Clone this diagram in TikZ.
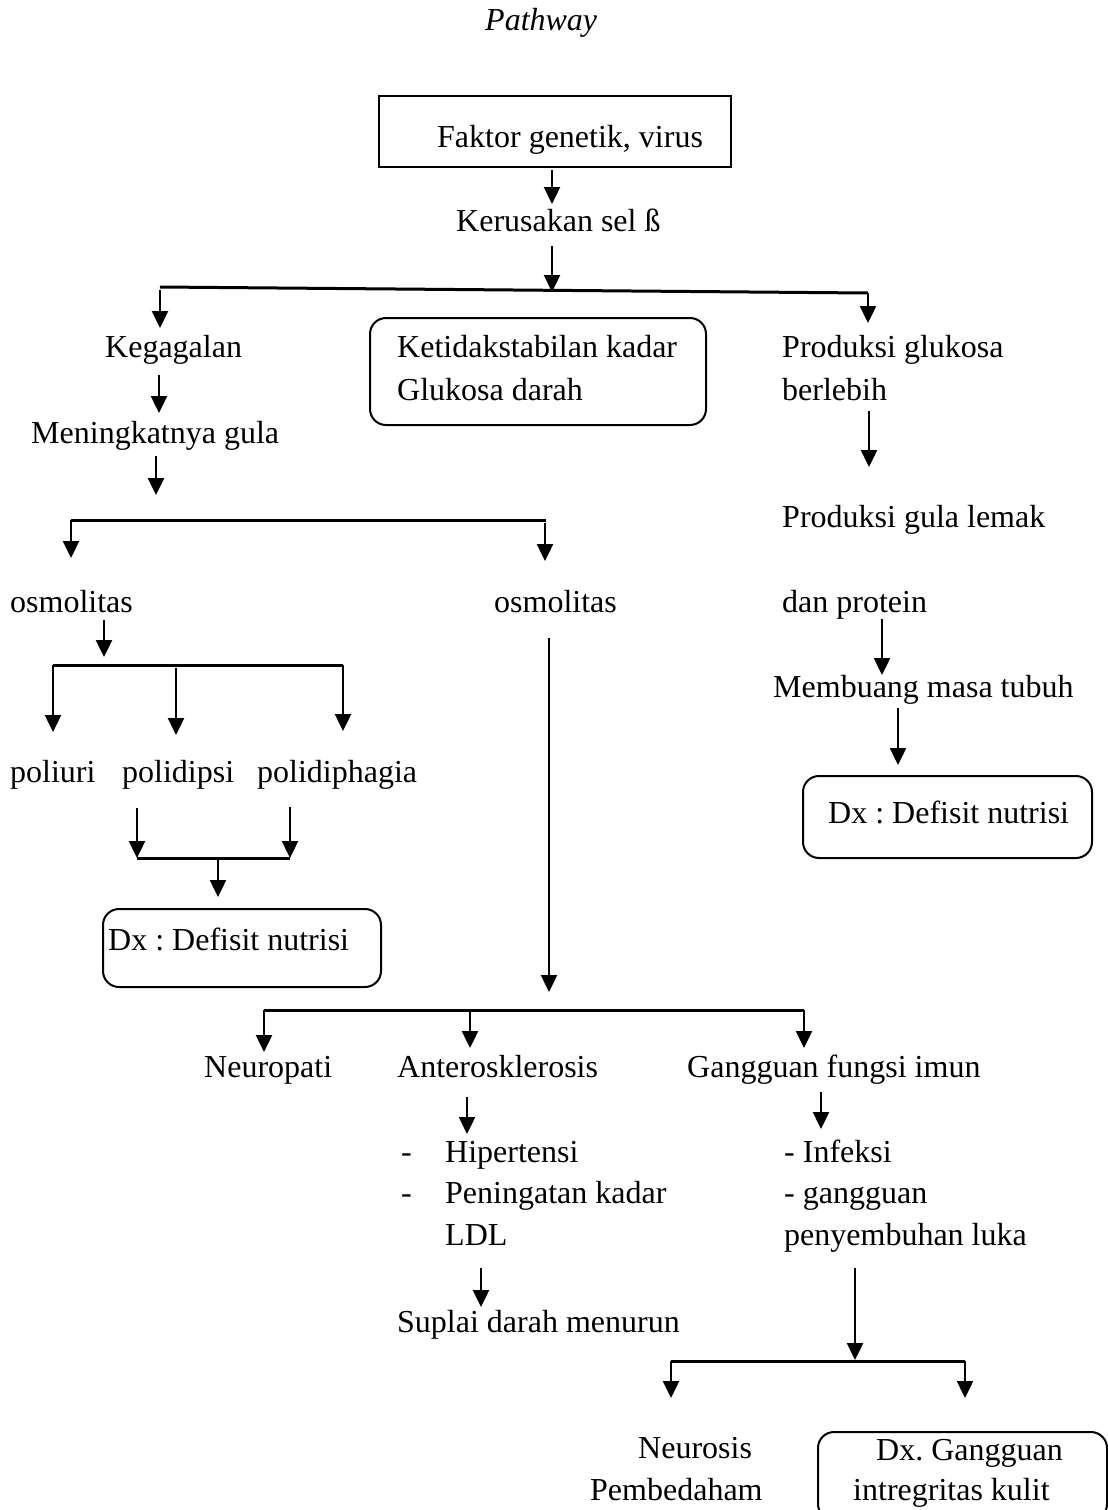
\documentclass[tikz,border=0pt]{standalone}
\usepackage{fontspec}
\setmainfont{Liberation Serif}
\usetikzlibrary{arrows.meta}
\frenchspacing
\newcommand{\fsz}{\fontsize{32}{38}\selectfont}
\tikzset{
  txt/.style={inner sep=0pt, anchor=base west, font=\fsz},
  arr/.style={line width=2.4pt, -{Triangle[length={17pt 0 0},width={16pt 0 0}]}},
  bar/.style={line width=3pt},
  sqbox/.style={line width=2pt},
  rbox/.style={line width=2pt, rounded corners=16pt},
}
\begin{document}
\frenchspacing
\begin{tikzpicture}[x=1pt,y=-1pt]
\useasboundingbox[fill=white] (0,0) rectangle (1108,1510);
\clip (0,0) rectangle (1108,1510);

% title
\node[txt, font=\fsz\itshape] (title) at (485,30) {Pathway};

% boxes
\draw[sqbox] (379,96) rectangle (731,167);
\node[txt] (fak) at (437,147) {Faktor genetik, virus};
\draw[rbox] (370,318) rectangle (706,425);
\draw[rbox] (803,776) rectangle (1092,858);
\draw[rbox] (103,909) rectangle (381,987);
\draw[rbox] (818,1432) rectangle (1107,1520);

% texts
\node[txt] (ker) at (456,231) {Kerusakan sel ß};
\node[txt] (keg) at (105,357) {Kegagalan};
\node[txt] (ket1) at (397,357) {Ketidakstabilan kadar};
\node[txt] (ket2) at (397,400) {Glukosa darah};
\node[txt] (prod1) at (782,357) {Produksi glukosa};
\node[txt] (prod2) at (782,400) {berlebih};
\node[txt] (men) at (31,443) {Meningkatnya gula};
\node[txt] (pgl) at (782,527) {Produksi gula lemak};
\node[txt] (osm1) at (10,612) {osmolitas};
\node[txt] (osm2) at (494,612) {osmolitas};
\node[txt] (dan) at (782,612) {dan protein};
\node[txt] (mem) at (773,697) {Membuang masa tubuh};
\node[txt] (pu) at (10,782) {poliuri};
\node[txt] (pd) at (122,782) {polidipsi};
\node[txt] (ph) at (257,782) {polidiphagia};
\node[txt] (dxr) at (828,823) {Dx : Defisit nutrisi};
\node[txt] (dxl) at (108,950) {Dx : Defisit nutrisi};
\node[txt] (neu) at (204,1077) {Neuropati};
\node[txt] (ant) at (397,1077) {Anterosklerosis};
\node[txt] (gfi) at (687,1077) {Gangguan fungsi imun};
\node[txt] (d1) at (401,1162) {-};
\node[txt] (hip) at (445,1162) {Hipertensi};
\node[txt] (d2) at (401,1203) {-};
\node[txt] (pen) at (445,1203) {Peningatan kadar};
\node[txt] (ldl) at (445,1245) {LDL};
\node[txt] (inf) at (784,1162) {- Infeksi};
\node[txt] (gg) at (784,1203) {- gangguan};
\node[txt] (pny) at (784,1245) {penyembuhan luka};
\node[txt] (sup) at (397,1332) {Suplai darah menurun};
\node[txt] (nrs) at (638,1458) {Neurosis};
\node[txt] (pbd) at (590,1500) {Pembedaham};
\node[txt] (dxg1) at (876,1460) {Dx. Gangguan};
\node[txt] (dxg2) at (853,1500) {intregritas kulit};

% connector coordinates
\coordinate (a1s) at (552,170);  \coordinate (a1e) at (552,204);
\coordinate (a2s) at (552,246);  \coordinate (a2e) at (552,292);
\coordinate (h1l) at (160,287);  \coordinate (h1r) at (868,293);
\coordinate (a3s) at (160,290);  \coordinate (a3e) at (160,328);
\coordinate (a4s) at (868,293);  \coordinate (a4e) at (868,323);
\coordinate (a5s) at (159,375);  \coordinate (a5e) at (159,413);
\coordinate (a6s) at (156,456);  \coordinate (a6e) at (156,495);
\coordinate (h2l) at (71,520);   \coordinate (h2r) at (546,520);
\coordinate (a7e) at (71,558);
\coordinate (a8s) at (545,523);  \coordinate (a8e) at (545,561);
\coordinate (a9s) at (869,411);  \coordinate (a9e) at (869,467);
\coordinate (a10s) at (104,620); \coordinate (a10e) at (104,657);
\coordinate (h3l) at (53,665);   \coordinate (h3r) at (343,665);
\coordinate (a11e) at (53,732);
\coordinate (a12s) at (176,668); \coordinate (a12e) at (176,735);
\coordinate (a13e) at (343,731);
\coordinate (a14s) at (882,619); \coordinate (a14e) at (882,675);
\coordinate (a15s) at (898,708); \coordinate (a15e) at (898,765);
\coordinate (a16s) at (137,808); \coordinate (h4l) at (137,858);
\coordinate (a17s) at (290,807); \coordinate (h4r) at (290,858);
\coordinate (a18s) at (218,858); \coordinate (a18e) at (218,897);
\coordinate (a19s) at (549,638); \coordinate (a19e) at (549,992);
\coordinate (h5l) at (264,1010); \coordinate (h5r) at (804,1010);
\coordinate (a20e) at (264,1052);
\coordinate (a21s) at (470,1010); \coordinate (a21e) at (470,1048);
\coordinate (a22e) at (804,1048);
\coordinate (a23s) at (467,1097); \coordinate (a23e) at (467,1134);
\coordinate (a24s) at (821,1092); \coordinate (a24e) at (821,1129);
\coordinate (a25s) at (481,1268); \coordinate (a25e) at (481,1307);
\coordinate (a26s) at (855,1268); \coordinate (a26e) at (855,1360);
\coordinate (h6l) at (671,1361); \coordinate (h6r) at (965,1361);
\coordinate (a27e) at (671,1398); \coordinate (a28e) at (965,1398);

% bars
\draw[bar] (h1l) -- (h1r);
\draw[bar] (h2l) -- (h2r);
\draw[bar] (h3l) -- (h3r);
\draw[bar] (h4l) -- (h4r);
\draw[bar] (h5l) -- (h5r);
\draw[bar] (h6l) -- (h6r);

% arrows
\draw[arr] (a1s) -- (a1e);
\draw[arr] (a2s) -- (a2e);
\draw[arr] (a3s) -- (a3e);
\draw[arr] (a4s) -- (a4e);
\draw[arr] (a5s) -- (a5e);
\draw[arr] (a6s) -- (a6e);
\draw[arr] (h2l) -- (a7e);
\draw[arr] (a8s) -- (a8e);
\draw[arr] (a9s) -- (a9e);
\draw[arr] (a10s) -- (a10e);
\draw[arr] (h3l) -- (a11e);
\draw[arr] (a12s) -- (a12e);
\draw[arr] (h3r) -- (a13e);
\draw[arr] (a14s) -- (a14e);
\draw[arr] (a15s) -- (a15e);
\draw[arr] (a16s) -- (h4l);
\draw[arr] (a17s) -- (h4r);
\draw[arr] (a18s) -- (a18e);
\draw[arr] (a19s) -- (a19e);
\draw[arr] (h5l) -- (a20e);
\draw[arr] (a21s) -- (a21e);
\draw[arr] (h5r) -- (a22e);
\draw[arr] (a23s) -- (a23e);
\draw[arr] (a24s) -- (a24e);
\draw[arr] (a25s) -- (a25e);
\draw[arr] (a26s) -- (a26e);
\draw[arr] (h6l) -- (a27e);
\draw[arr] (h6r) -- (a28e);
\end{tikzpicture}
\end{document}
